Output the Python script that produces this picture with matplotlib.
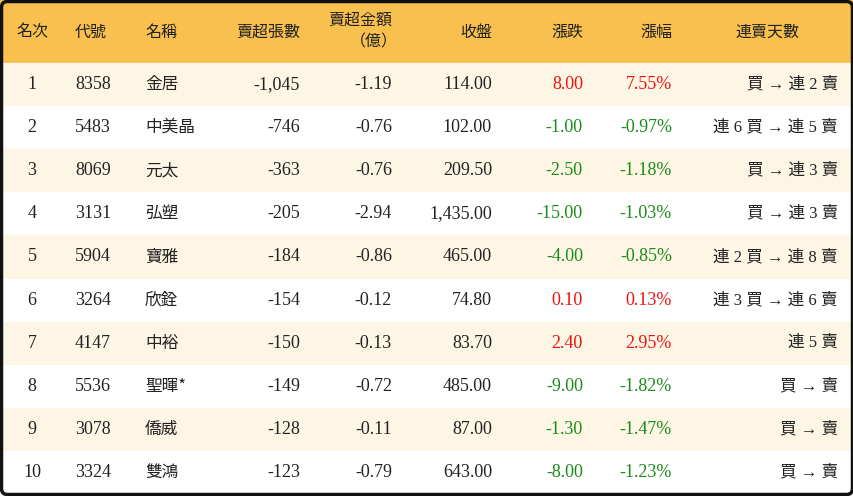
import matplotlib
matplotlib.use("Agg")
import matplotlib.pyplot as plt
from matplotlib.patches import Rectangle, FancyBboxPatch

ranks = ["1","2","3","4","5","6","7","8","9","10"]
codes = ["8358","5483","8069","3131","5904","3264","4147","5536","3078","3324"]
names = ["金居","中美晶","元太","弘塑","寶雅","欣銓","中裕","聖暉*","僑威","雙鴻"]
lots = ["-1,045","-746","-363","-205","-184","-154","-150","-149","-128","-123"]
amount = ["-1.19","-0.76","-0.76","-2.94","-0.86","-0.12","-0.13","-0.72","-0.11","-0.79"]
close = ["114.00","102.00","209.50","1,435.00","465.00","74.80","83.70","485.00","87.00","643.00"]
change = [8.00,-1.00,-2.50,-15.00,-4.00,0.10,2.40,-9.00,-1.30,-8.00]
pct = [7.55,-0.97,-1.18,-1.03,-0.85,0.13,2.95,-1.82,-1.47,-1.23]
streak = ["買 → 連 2 賣","連 6 買 → 連 5 賣","買 → 連 3 賣","買 → 連 3 賣","連 2 買 → 連 8 賣",
          "連 3 買 → 連 6 賣","連 5 賣","買 → 賣","買 → 賣","買 → 賣"]
headers = ["名次","代號","名稱","賣超張數","賣超金額\n（億）","收盤","漲跌","漲幅","連賣天數"]

W, H = 854, 496
fig = plt.figure(figsize=(W/100, H/100), dpi=100)
ax = fig.add_axes([0, 0, 1, 1])
ax.set_xlim(0, W); ax.set_ylim(H, 0); ax.axis("off")

cjk = ["Noto Sans CJK TC", "Noto Sans CJK JP", "Noto Sans CJK SC", "DejaVu Sans"]
mixed = ["Liberation Serif", "Noto Sans CJK JP", "Noto Sans CJK TC", "DejaVu Sans"]
num = "Liberation Serif"
hdr_h = 63
row_h = (H - 2 - hdr_h) / 10

ax.add_patch(Rectangle((0, 0), W, hdr_h, color="#F8C04E", zorder=0))
for i in range(10):
    y0 = hdr_h + i*row_h
    ax.add_patch(Rectangle((0, y0), W, row_h, color="#FEF6E4" if i % 2 == 0 else "white", zorder=0))
ax.add_patch(FancyBboxPatch((1.5, 1.5), W-3, H-3, boxstyle="round,pad=0,rounding_size=6",
                            fill=False, ec="#111111", lw=2.5, zorder=5))

hx = [(32,"center"),(75,"left"),(145,"left"),(300,"right"),(392,"right"),(492,"right"),(583,"right"),(672,"right"),(767,"center")]
for (x, ha), t in zip(hx, headers):
    if "\n" in t:
        ax.text(x, 20, "賣超金額", ha=ha, va="center", fontfamily=cjk, fontsize=11.5, color="#222")
        ax.text(x-18, 42, "（億）", ha="center", va="center", fontfamily=cjk, fontsize=11.5, color="#222")
    else:
        ax.text(x, 32, t, ha=ha, va="center", fontfamily=cjk, fontsize=11.5, color="#222")

green, red = "#1a8a1a", "#ee1111"
for i in range(10):
    y = hdr_h + (i+0.5)*row_h
    kw = dict(va="center", fontsize=13, color="#222")
    ax.text(32, y, ranks[i], ha="center", fontfamily=num, **kw)
    ax.text(75, y, codes[i], ha="left", fontfamily=num, **kw)
    ax.text(145, y, names[i], ha="left", fontfamily=cjk, va="center", fontsize=12, color="#222")
    ax.text(300, y, lots[i], ha="right", fontfamily=num, **kw)
    ax.text(392, y, amount[i], ha="right", fontfamily=num, **kw)
    ax.text(492, y, close[i], ha="right", fontfamily=num, **kw)
    c = red if change[i] > 0 else green
    ax.text(583, y, f"{change[i]:.2f}", ha="right", va="center", fontsize=13, fontfamily=num, color=c)
    ax.text(672, y, f"{pct[i]:.2f}%", ha="right", va="center", fontsize=13, fontfamily=num, color=c)
    ax.text(838, y, streak[i], ha="right", va="center", fontsize=12, fontfamily=mixed, color="#222")

fig.savefig("out.png", dpi=100)
